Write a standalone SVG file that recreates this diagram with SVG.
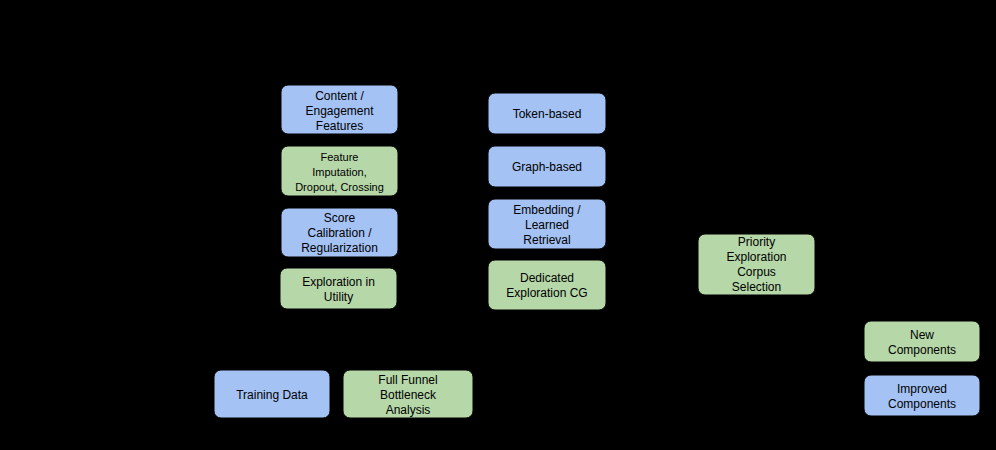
<svg xmlns="http://www.w3.org/2000/svg" width="996" height="450" viewBox="0 0 996 450">
<style>
.b{fill:#a4c2f4;stroke:#000;stroke-width:1}
.g{fill:#b6d7a8;stroke:#000;stroke-width:1}
text{font-family:"Liberation Sans",Arial,sans-serif;font-size:12px;fill:#000;text-anchor:middle}
.s{font-size:11px}
</style>
<rect width="996" height="450" fill="#000"/>
<g id="connectors"></g>
<g id="n1"><rect class="b" x="281" y="85" width="117" height="49" rx="7"/><text x="339.5" y="100">Content /</text><text x="339.5" y="115">Engagement</text><text x="339.5" y="130">Features</text></g>
<g id="n2"><rect class="g" x="281" y="146" width="117" height="50" rx="7"/><text class="s" x="339.5" y="161">Feature</text><text class="s" x="339.5" y="176">Imputation,</text><text class="s" x="339.5" y="191">Dropout, Crossing</text></g>
<g id="n3"><rect class="b" x="281" y="208" width="117" height="49" rx="7"/><text x="339.5" y="222">Score</text><text x="339.5" y="237">Calibration /</text><text x="339.5" y="252">Regularization</text></g>
<g id="n4"><rect class="g" x="280" y="268" width="117" height="41" rx="7"/><text x="338.5" y="286">Exploration in</text><text x="338.5" y="301">Utility</text></g>
<g id="n5"><rect class="b" x="488" y="93" width="118" height="41" rx="7"/><text x="547" y="118">Token-based</text></g>
<g id="n6"><rect class="b" x="488" y="146" width="118" height="41" rx="7"/><text x="547" y="171">Graph-based</text></g>
<g id="n7"><rect class="b" x="488" y="199" width="118" height="50" rx="7"/><text x="547" y="214">Embedding /</text><text x="547" y="229">Learned</text><text x="547" y="244">Retrieval</text></g>
<g id="n8"><rect class="g" x="488" y="260" width="118" height="50" rx="7"/><text x="547" y="282">Dedicated</text><text x="547" y="297">Exploration CG</text></g>
<g id="n9"><rect class="g" x="698" y="234" width="117" height="61" rx="7"/><text x="756.5" y="246">Priority</text><text x="756.5" y="261">Exploration</text><text x="756.5" y="276">Corpus</text><text x="756.5" y="291">Selection</text></g>
<g id="n10"><rect class="g" x="864" y="321" width="116" height="41" rx="7"/><text x="922" y="339">New</text><text x="922" y="354">Components</text></g>
<g id="n11"><rect class="b" x="864" y="375" width="116" height="41" rx="7"/><text x="922" y="393">Improved</text><text x="922" y="408">Components</text></g>
<g id="n12"><rect class="b" x="214" y="370" width="116" height="48" rx="7"/><text x="272" y="399">Training Data</text></g>
<g id="n13"><rect class="g" x="343" y="370" width="130" height="48" rx="7"/><text x="408" y="384">Full Funnel</text><text x="408" y="399">Bottleneck</text><text x="408" y="414">Analysis</text></g>
</svg>
